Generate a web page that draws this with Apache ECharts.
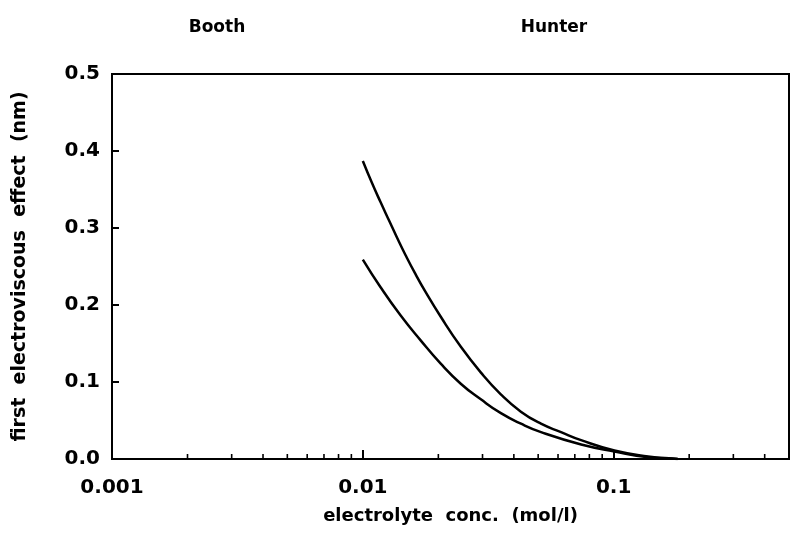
<!DOCTYPE html>
<html>
<head>
<meta charset="utf-8">
<script src="https://cdn.jsdelivr.net/npm/echarts@6/dist/echarts.min.js"></script>
<style>
  html, body { margin: 0; padding: 0; background: #fff; }
  #chart { width: 793px; height: 547px; }
</style>
</head>
<body>
<div id="chart"></div>
<script>
// Electrolyte concentration (mol/l) and first electroviscous effect (nm)
const concUpper   = [0.0100, 0.01089, 0.01175, 0.01271, 0.01371, 0.01479, 0.01622, 0.01778, 0.02042,
                     0.02455, 0.02951, 0.03548, 0.04266, 0.05129, 0.06166, 0.07413, 0.1007, 0.1371, 0.166, 0.18];
const effectUpper = [0.387,  0.358,   0.334,   0.310,   0.287,   0.265,   0.240,   0.217,   0.185,
                     0.146,   0.1125,  0.0840,  0.0615,  0.0458,  0.0349,  0.0245,  0.011,  0.0033, 0.001, 0.0];

const concLower   = [0.0100, 0.01175, 0.01413, 0.01700, 0.02044, 0.02457, 0.02954, 0.03551, 0.04270,
                     0.05133, 0.0742, 0.1008, 0.1371, 0.17, 0.18];
const effectLower = [0.259,  0.2234,  0.1866,  0.1541,  0.1238,  0.0978,  0.0775,  0.0595,  0.0458,
                     0.0349,  0.0189, 0.0098, 0.0023, 0.0005, 0.0];

// Decade labels of the logarithmic concentration axis
const xTickValues = [0.001, 0.01, 0.1];
const xTickLabels = ['0.001', '0.01', '0.1'];
// Intermediate (2..9) positions inside each decade
const xMinorTicks = [0.002, 0.003, 0.004, 0.005, 0.006, 0.007, 0.008, 0.009,
                     0.02, 0.03, 0.04, 0.05, 0.06, 0.07, 0.08, 0.09,
                     0.2, 0.3, 0.4];

const headerLabels = ['Booth', 'Hunter'];

const FONT = 'DejaVu Sans';

function pairs(xs, ys) { return xs.map((x, i) => [x, ys[i]]); }

const chart = echarts.init(document.getElementById('chart'), null, { renderer: 'canvas' });

chart.setOption({
  animation: false,
  backgroundColor: '#ffffff',
  grid: {
    left: 112, right: 4, top: 74, bottom: 88,
    show: true, borderColor: '#000', borderWidth: 2, backgroundColor: 'transparent'
  },
  graphic: [
    { type: 'text', x: 217, y: 28, style: { text: headerLabels[0], fill: '#000', font: 'bold 17px "' + FONT + '"', textAlign: 'center', textVerticalAlign: 'middle' } },
    { type: 'text', x: 554, y: 28, style: { text: headerLabels[1], fill: '#000', font: 'bold 17px "' + FONT + '"', textAlign: 'center', textVerticalAlign: 'middle' } }
  ],
  xAxis: {
    type: 'log',
    logBase: 10,
    min: 0.001,
    max: 0.5,
    name: 'electrolyte  conc.  (mol/l)',
    nameLocation: 'middle',
    nameGap: 48,
    nameTextStyle: { fontFamily: FONT, fontWeight: 'bold', fontSize: 18, color: '#000', verticalAlign: 'top' },
    axisLine: { show: true, lineStyle: { color: '#000', width: 2 } },
    axisTick: { show: true, inside: true, length: 9, lineStyle: { color: '#000', width: 2 } },
    axisLabel: {
      fontFamily: FONT, fontWeight: 'bold', fontSize: 20, color: '#000', margin: 19,
      showMaxLabel: false,
      formatter: function (v) {
        for (let i = 0; i < xTickValues.length; i++) {
          if (Math.abs(Math.log10(v) - Math.log10(xTickValues[i])) < 1e-6) return xTickLabels[i];
        }
        return '';
      }
    },
    splitLine: { show: false },
    minorTick: { show: false }
  },
  yAxis: {
    type: 'value',
    min: 0,
    max: 0.5,
    interval: 0.1,
    name: 'first  electroviscous  effect  (nm)',
    nameLocation: 'middle',
    nameRotate: 90,
    nameGap: 82,
    nameTextStyle: { fontFamily: FONT, fontWeight: 'bold', fontSize: 19, color: '#000' },
    axisLine: { show: true, lineStyle: { color: '#000', width: 2 } },
    axisTick: { show: true, inside: true, length: 7, lineStyle: { color: '#000', width: 2 } },
    axisLabel: {
      fontFamily: FONT, fontWeight: 'bold', fontSize: 20, color: '#000', margin: 12,
      formatter: function (v) { return v.toFixed(1); }
    },
    splitLine: { show: false }
  },
  series: [
    {
      type: 'custom',
      data: xMinorTicks.map(v => [v, 0]),
      silent: true,
      clip: false,
      renderItem: function (params, api) {
        const p = api.coord([api.value(0), 0]);
        return {
          type: 'line',
          shape: { x1: p[0], y1: p[1], x2: p[0], y2: p[1] - 5 },
          style: { stroke: '#000', lineWidth: 1.6 }
        };
      }
    },
    {
      type: 'line',
      data: pairs(concUpper, effectUpper),
      smooth: 0.5,
      showSymbol: false,
      lineStyle: { color: '#000', width: 2.5 }
    },
    {
      type: 'line',
      data: pairs(concLower, effectLower),
      smooth: 0.5,
      showSymbol: false,
      lineStyle: { color: '#000', width: 2.5 }
    }
  ]
});
</script>
</body>
</html>
